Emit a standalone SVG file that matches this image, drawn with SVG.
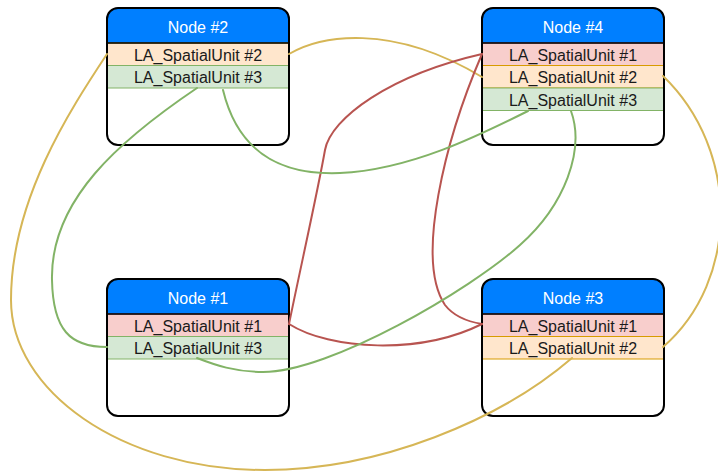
<svg xmlns="http://www.w3.org/2000/svg" width="718" height="472" viewBox="0 0 718 472">
<style>
.body{fill:#fff;stroke:none}
.frame{fill:none;stroke:#000;stroke-width:2}
.hdr{fill:#007FFF;stroke:none}
.hline{stroke:#000;stroke-width:1.5;fill:none}
.r1{fill:#F8CECC;stroke:#B85450;stroke-width:1}
.r2{fill:#FFE6CC;stroke:#D79B00;stroke-width:1}
.r3{fill:#D5E8D4;stroke:#82B366;stroke-width:1}
.ht{font-family:"Liberation Sans",Arial,sans-serif;font-size:16px;fill:#fff;text-anchor:middle}
.rt{font-family:"Liberation Sans",Arial,sans-serif;font-size:16px;fill:#1a1a1a;text-anchor:middle}
.e{fill:none;stroke-width:2;stroke-linecap:round}
.red{stroke:#B85450}
.grn{stroke:#82B366}
.yel{stroke:#D6B656}
</style>
<defs>
<path id="hdrshape" d="M0,35 V11 A11,11 0 0 1 11,0 H171 A11,11 0 0 1 182,11 V35 Z"/>
</defs>

<g id="node2" transform="translate(107,8)">
<rect class="body" x="0" y="0" width="182" height="137" rx="11"/>
<use href="#hdrshape" class="hdr"/>
<rect class="r2" x="0" y="35" width="182" height="22.5"/>
<rect class="r3" x="0" y="57.5" width="182" height="22.5"/>
<path class="hline" d="M0,35 H182"/>
<rect class="frame" x="0" y="0" width="182" height="137" rx="11"/>
<text class="ht" x="91" y="24.5">Node #2</text>
<text class="rt" x="91" y="52.5">LA_SpatialUnit #2</text>
<text class="rt" x="91" y="75">LA_SpatialUnit #3</text>
</g>

<g id="node4" transform="translate(482,8)">
<rect class="body" x="0" y="0" width="182" height="137" rx="11"/>
<use href="#hdrshape" class="hdr"/>
<rect class="r1" x="0" y="35" width="182" height="22.5"/>
<rect class="r2" x="0" y="57.5" width="182" height="22.5"/>
<rect class="r3" x="0" y="80" width="182" height="22.5"/>
<path class="hline" d="M0,35 H182"/>
<rect class="frame" x="0" y="0" width="182" height="137" rx="11"/>
<text class="ht" x="91" y="24.5">Node #4</text>
<text class="rt" x="91" y="52.5">LA_SpatialUnit #1</text>
<text class="rt" x="91" y="75">LA_SpatialUnit #2</text>
<text class="rt" x="91" y="97.5">LA_SpatialUnit #3</text>
</g>

<g id="node1" transform="translate(107,279)">
<rect class="body" x="0" y="0" width="182" height="137" rx="11"/>
<use href="#hdrshape" class="hdr"/>
<rect class="r1" x="0" y="35" width="182" height="22.5"/>
<rect class="r3" x="0" y="57.5" width="182" height="22.5"/>
<path class="hline" d="M0,35 H182"/>
<rect class="frame" x="0" y="0" width="182" height="137" rx="11"/>
<text class="ht" x="91" y="24.5">Node #1</text>
<text class="rt" x="91" y="52.5">LA_SpatialUnit #1</text>
<text class="rt" x="91" y="75">LA_SpatialUnit #3</text>
</g>

<g id="node3" transform="translate(482,279)">
<rect class="body" x="0" y="0" width="182" height="137" rx="11"/>
<use href="#hdrshape" class="hdr"/>
<rect class="r1" x="0" y="35" width="182" height="22.5"/>
<rect class="r2" x="0" y="57.5" width="182" height="22.5"/>
<path class="hline" d="M0,35 H182"/>
<rect class="frame" x="0" y="0" width="182" height="137" rx="11"/>
<text class="ht" x="91" y="24.5">Node #3</text>
<text class="rt" x="91" y="52.5">LA_SpatialUnit #1</text>
<text class="rt" x="91" y="75">LA_SpatialUnit #2</text>
</g>

<g id="connectors">
<path class="e yel" d="M289,54 C320,36 390,22 482,77"/>
<path class="e yel" d="M107,54 C70,110 11,200 11,300 C11,390 120,470 265,470 C380,470 500,420 572,358"/>
<path class="e yel" d="M663,76 C740,150 740,280 663,347"/>
<path class="e red" d="M289,324 C300,270 318,190 325,150 C331,118 390,75 482,54"/>
<path class="e red" d="M482,54 C445,140 415,260 445,305 C455,318 470,322 482,324"/>
<path class="e red" d="M289,324 C330,350 420,355 482,324"/>
<path class="e grn" d="M197,88 C120,140 50,200 52,280 C53,330 70,347 107,347"/>
<path class="e grn" d="M223,90 C240,160 290,175 340,173 C410,170 480,135 528,111"/>
<path class="e grn" d="M571,111 C585,150 565,205 520,245 C470,290 330,372 263,372 C235,372 215,365 197,358"/>
</g>
</svg>
